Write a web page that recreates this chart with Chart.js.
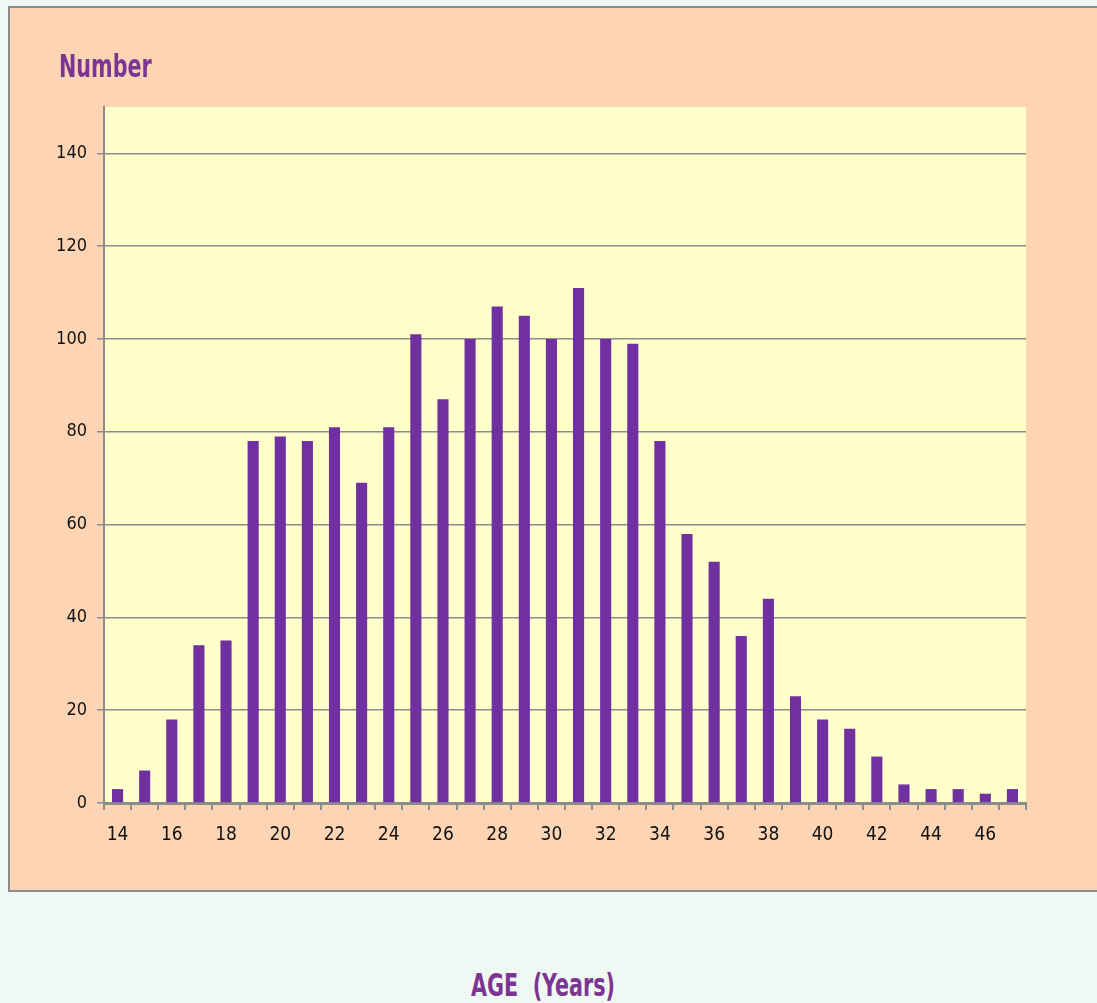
<!DOCTYPE html>
<html>
<head>
<meta charset="utf-8">
<script src="https://cdn.jsdelivr.net/npm/chart.js@4"></script>
<style>
    html, body { margin: 0; padding: 0; background: #F0F8F4; overflow: hidden; }
    body { width: 1097px; height: 1003px; position: relative; }
    #box {
        position: absolute; left: 8px; top: 6px;
        width: 1100px; height: 886px; box-sizing: border-box;
        border: 2px solid #8C8C8C; background: #FDD5B5;
    }
    #box canvas { position: absolute; left: 0; top: 0; }
    .label {
        position: absolute; color: #7B3593;
        font-family: "Liberation Sans Narrow", "DejaVu Sans Condensed", sans-serif;
        font-weight: bold; font-size: 32px; white-space: nowrap;
        transform: scaleX(0.72); transform-origin: left top;
    }
    #yTitle { left: 59px; top: 47px; }
    #xTitle { left: 471px; top: 966px; }
</style>
</head>
<body>
<div id="box"><canvas id="ageChart"></canvas></div>
<div class="label" id="yTitle">Number</div>
<div class="label" id="xTitle">AGE &nbsp;(Years)</div>
<script>
// Data
const ages = [14, 15, 16, 17, 18, 19, 20, 21, 22, 23, 24, 25, 26, 27, 28, 29, 30,
              31, 32, 33, 34, 35, 36, 37, 38, 39, 40, 41, 42, 43, 44, 45, 46, 47];
const counts = [3, 7, 18, 34, 35, 78, 79, 78, 81, 69, 81, 101, 87, 100, 107, 105, 100,
                111, 100, 99, 78, 58, 52, 36, 44, 23, 18, 16, 10, 4, 3, 3, 2, 3];
const yTicks = [0, 20, 40, 60, 80, 100, 120, 140];

// Paint the plot area background
const plotBackground = {
    id: 'plotBackground',
    beforeDraw(chart) {
        const { ctx, chartArea } = chart;
        ctx.save();
        ctx.fillStyle = '#FFFFCC';
        ctx.fillRect(chartArea.left, chartArea.top,
                     chartArea.right - chartArea.left, chartArea.bottom - chartArea.top);
        ctx.restore();
    }
};

const box = document.getElementById('box');
const canvas = document.getElementById('ageChart');
canvas.width = box.clientWidth;
canvas.height = box.clientHeight;

const tickFont = '"DejaVu Sans Condensed", "DejaVu Sans", sans-serif';

new Chart(canvas.getContext('2d'), {
    type: 'bar',
    data: {
        labels: ages.map(String),
        datasets: [{
            data: counts,
            backgroundColor: '#7030A0',
            borderWidth: 0,
            barPercentage: 0.41,
            categoryPercentage: 1.0
        }]
    },
    options: {
        responsive: false,
        animation: false,
        layout: { padding: { top: 99, right: 80, left: 0, bottom: 0 } },
        plugins: {
            legend: { display: false },
            tooltip: { enabled: false }
        },
        scales: {
            x: {
                afterFit(scale) { scale.height = 87; },
                grid: {
                    offset: true,
                    drawOnChartArea: false,
                    color: '#8C8C8C',
                    lineWidth: 2,
                    tickLength: 7
                },
                border: { color: '#8C8C8C', width: 3 },
                ticks: {
                    autoSkip: false,
                    maxRotation: 0,
                    color: '#111',
                    padding: 14,
                    font: { family: tickFont, size: 19 },
                    callback(value, index) {
                        return ages[index] % 2 === 0 ? String(ages[index]) : '';
                    }
                }
            },
            y: {
                min: 0,
                max: 150,
                afterFit(scale) { scale.width = 94; },
                afterBuildTicks(scale) {
                    scale.ticks = yTicks.map(v => ({ value: v }));
                },
                grid: {
                    color: '#8C8C8C',
                    lineWidth: 1.5,
                    tickLength: 7
                },
                border: { color: '#8C8C8C', width: 2 },
                ticks: {
                    color: '#111',
                    padding: 10,
                    font: { family: tickFont, size: 18 }
                }
            }
        }
    },
    plugins: [plotBackground]
});
</script>
</body>
</html>
